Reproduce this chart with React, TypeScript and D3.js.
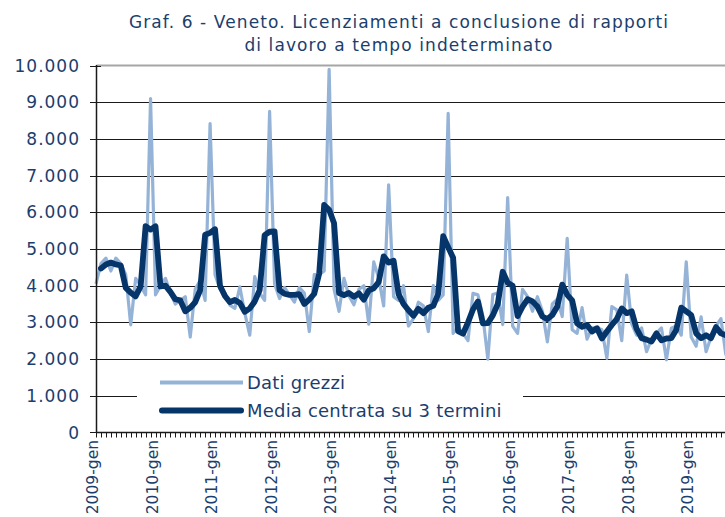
import React from "react";
import * as d3 from "d3";

const years = [2009, 2010, 2011, 2012, 2013, 2014, 2015, 2016, 2017, 2018, 2019];
const monthNames = ["gen", "feb", "mar", "apr", "mag", "giu", "lug", "ago", "set", "ott", "nov", "dic"];
const categories = years.flatMap((y) => monthNames.map((m) => `${y}-${m}`)).slice(0, 128);

const datiGrezzi = [
  4050, 4600, 4750, 4400, 4750, 4600, 4300, 2930, 4200, 4000, 3750, 9100,
  3750, 4000, 4200, 3800, 3500, 3600, 3700, 2600, 3900, 4150, 3600, 8420,
  4300, 3900, 3800, 3470, 3380, 3970, 3250, 2650, 4250, 3800, 3600, 8750,
  4050, 3650, 3950, 3750, 3550, 3950, 3800, 2750, 4300, 4300, 4400, 9900,
  3900, 3300, 4200, 3720, 3480, 3900, 4000, 2950, 4650, 4200, 3450, 6750,
  3700, 3600, 4000, 2900, 3100, 3550, 3450, 2750, 4000, 3600, 3750, 8700,
  2700, 2880, 2700, 2500, 3790, 3750, 3170, 2000, 3760, 3800, 2940, 6400,
  2900, 2700, 3900, 3700, 3300, 3700, 3300, 2470, 3500, 3630, 3160, 5290,
  2800, 2700, 3400, 2540, 2850, 2860, 2800, 2020, 3430, 3340, 2500, 4290,
  2960, 2650, 2850, 2200, 2550, 2700, 2850, 1980, 2840, 2900, 2650, 4650,
  2600, 2350, 3150, 2200, 2600, 2900, 3100, 2100,
];

const mediaCentrata: (number | null)[] = [
  null, 4470, 4580, 4630, 4580, 4550, 3940, 3810, 3710, 3980, 5620, 5530,
  5620, 3980, 4000, 3830, 3630, 3600, 3300, 3400, 3550, 3880, 5390, 5440,
  5540, 4000, 3720, 3550, 3610, 3530, 3290, 3380, 3570, 3880, 5380, 5470,
  5480, 3880, 3780, 3750, 3750, 3770, 3500, 3620, 3780, 4330, 6200, 6070,
  5700, 3800, 3740, 3800, 3700, 3790, 3620, 3870, 3930, 4100, 4800, 4630,
  4680, 3770, 3500, 3330, 3180, 3370, 3250, 3400, 3450, 3780, 5350, 5050,
  4760, 2760, 2690, 3000, 3350, 3570, 2970, 2980, 3190, 3500, 4380, 4080,
  4000, 3170, 3430, 3630, 3570, 3430, 3160, 3090, 3200, 3430, 4030, 3750,
  3600, 2970, 2880, 2930, 2750, 2840, 2560, 2750, 2930, 3090, 3380, 3250,
  3300, 2820, 2570, 2530, 2480, 2700, 2510, 2560, 2570, 2800, 3400, 3300,
  3200, 2700, 2570, 2650, 2570, 2870, 2700, 2650,
];

const yTicks = [0, 1000, 2000, 3000, 4000, 5000, 6000, 7000, 8000, 9000, 10000];
const titleLines = [
  "Graf. 6 - Veneto. Licenziamenti a conclusione di rapporti",
  "di lavoro a tempo indeterminato",
];
const legendLabels = ["Dati grezzi", "Media centrata su 3 termini"];

const W = 725;
const H = 517;
const FONT = "'DejaVu Sans', Verdana, sans-serif";
const TEXT = "#1b3e6d";
const RAW = "#95b3d7";
const AVG = "#06356a";

export default function App() {
  const x = d3.scaleLinear().domain([0, 127]).range([96, 96 + 127 * 4.96]);
  const y = d3.scaleLinear().domain([0, 10000]).range([432.4, 65.6]);
  const fmt = d3.formatLocale({ decimal: ",", thousands: ".", grouping: [3], currency: ["€", ""] }).format(",");

  const rawLine = d3
    .line<number>()
    .x((_, i) => x(i))
    .y((d) => y(d));
  const avgLine = d3
    .line<number | null>()
    .defined((d) => d != null)
    .x((_, i) => x(i))
    .y((d) => y(d as number));

  const plotLeft = 96.5;
  const xAxisY = Math.round(y(0)) + 0.5;

  return (
    <div style={{ position: "absolute", left: 0, top: 0 }}>
      <svg width={W} height={H} style={{ display: "block", background: "#fff" }}>
        <rect x={0} y={0} width={W} height={H} fill="#fff" />
        {titleLines.map((t, i) => (
          <text key={t} x={399} y={28 + i * 23} textAnchor="middle" fontFamily={FONT} fontSize={17} letterSpacing={1.1} fill={TEXT}>
            {t}
          </text>
        ))}
        {/* gridlines */}
        {yTicks.slice(1, -1).map((v) => (
          <line key={v} x1={plotLeft} x2={W} y1={Math.round(y(v)) + 0.5} y2={Math.round(y(v)) + 0.5} stroke="#1a1a1a" strokeWidth={1} />
        ))}
        <line x1={plotLeft} x2={W} y1={65.5} y2={65.5} stroke="#a6a6a6" strokeWidth={2} />
        {/* y ticks and labels */}
        {yTicks.map((v) => (
          <g key={v}>
            <line x1={90} x2={101} y1={Math.round(y(v)) + 0.5} y2={Math.round(y(v)) + 0.5} stroke="#1a1a1a" strokeWidth={1} />
            <text x={80} y={y(v)} dy="0.36em" textAnchor="end" fontFamily={FONT} fontSize={17} letterSpacing={1} fill={TEXT}>
              {fmt(v)}
            </text>
          </g>
        ))}
        {/* x ticks */}
        {categories.map((c, i) => (
          <line key={c} x1={Math.round(x(i)) + 0.5} x2={Math.round(x(i)) + 0.5} y1={xAxisY} y2={xAxisY + 5} stroke="#1a1a1a" strokeWidth={1} />
        ))}
        {categories.map((c, i) =>
          i % 12 === 0 ? (
            <text
              key={"l" + c}
              transform={`translate(${x(i) + 2},440) rotate(-90)`}
              textAnchor="end"
              fontFamily={FONT}
              fontSize={15.5}
              fill={TEXT}
            >
              {c}
            </text>
          ) : null
        )}
        {/* series */}
        <path d={rawLine(datiGrezzi) ?? ""} fill="none" stroke={RAW} strokeWidth={3.2} strokeLinejoin="round" />
        <path d={avgLine(mediaCentrata) ?? ""} fill="none" stroke={AVG} strokeWidth={5.8} strokeLinejoin="round" strokeLinecap="round" />
        {/* axes */}
        <line x1={plotLeft} x2={plotLeft} y1={65} y2={xAxisY} stroke="#1a1a1a" strokeWidth={1.5} />
        <line x1={plotLeft} x2={W} y1={xAxisY} y2={xAxisY} stroke="#1a1a1a" strokeWidth={1.5} />
        {/* legend */}
        <rect x={137} y={362} width={386} height={66} fill="#fff" />
        <line x1={160} x2={243} y1={382.5} y2={382.5} stroke={RAW} strokeWidth={4} />
        <text x={247} y={389} fontFamily={FONT} fontSize={18} letterSpacing={0.2} fill={TEXT}>
          {legendLabels[0]}
        </text>
        <line x1={162} x2={241} y1={410.5} y2={410.5} stroke={AVG} strokeWidth={6} strokeLinecap="round" />
        <text x={247} y={417} fontFamily={FONT} fontSize={18} letterSpacing={0.2} fill={TEXT}>
          {legendLabels[1]}
        </text>
      </svg>
    </div>
  );
}
